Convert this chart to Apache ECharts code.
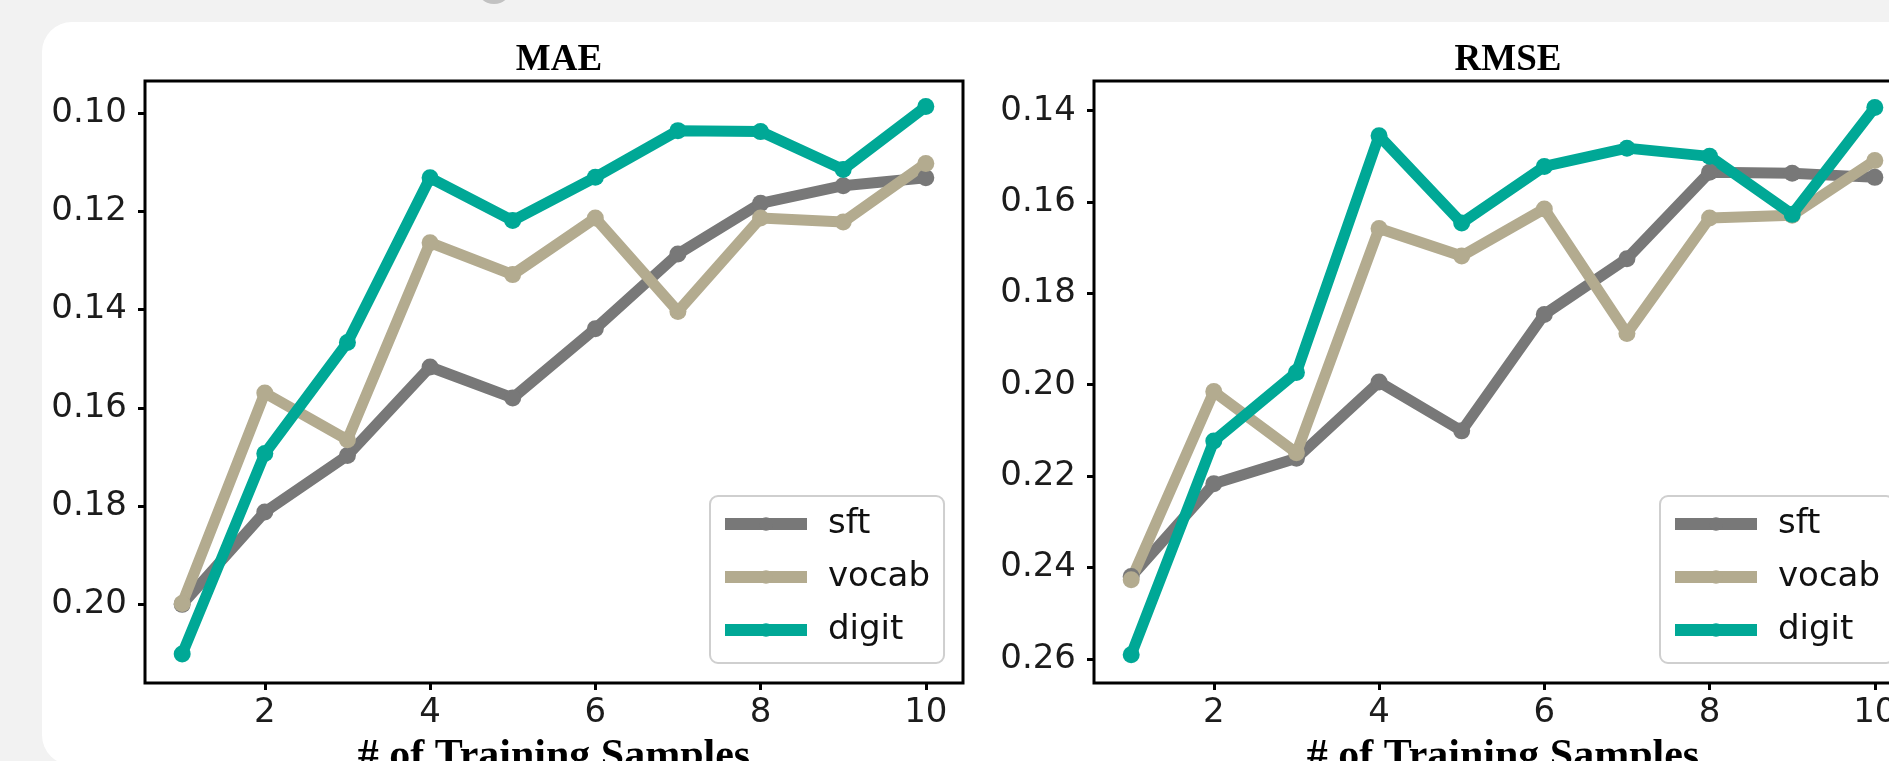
<!DOCTYPE html>
<html>
<head>
<meta charset="utf-8">
<script src="https://cdn.jsdelivr.net/npm/echarts/dist/echarts.min.js"></script>
<style>
  html, body { margin: 0; padding: 0; background: #f2f2f2; }
  body { width: 1889px; height: 761px; position: relative; overflow: hidden; }
  #dot { position: absolute; left: 476px; top: -32px; width: 36px; height: 36px; border-radius: 50%; background: #c2c2c2; }
  #card { position: absolute; left: 42px; top: 22px; width: 1900px; height: 743px; background: #ffffff; border-radius: 30px; }
  #chart { position: absolute; left: 0; top: 0; width: 1889px; height: 761px; }
</style>
</head>
<body>
<div id="dot"></div>
<div id="card"></div>
<div id="chart"></div>
<script>
// ---- data ----
const samples = [1, 2, 3, 4, 5, 6, 7, 8, 9, 10];
const seriesNames = ['sft', 'vocab', 'digit'];
const maeSft   = [0.2000, 0.1812, 0.1697, 0.1517, 0.1580, 0.1439, 0.1287, 0.1184, 0.1148, 0.1132];
const maeVocab = [0.1998, 0.1570, 0.1665, 0.1264, 0.1329, 0.1214, 0.1404, 0.1214, 0.1222, 0.1103];
const maeDigit = [0.2101, 0.1693, 0.1467, 0.1132, 0.1219, 0.1131, 0.1036, 0.1038, 0.1115, 0.0987];
const rmseSft   = [0.2420, 0.2217, 0.2161, 0.1994, 0.2101, 0.1846, 0.1724, 0.1535, 0.1537, 0.1546];
const rmseVocab = [0.2427, 0.2015, 0.2149, 0.1658, 0.1718, 0.1615, 0.1888, 0.1635, 0.1629, 0.1509];
const rmseDigit = [0.2591, 0.2123, 0.1973, 0.1455, 0.1646, 0.1522, 0.1482, 0.1500, 0.1627, 0.1393];
const xTicks = [2, 4, 6, 8, 10];
const maeTicks = [0.10, 0.12, 0.14, 0.16, 0.18, 0.20];
const rmseTicks = [0.14, 0.16, 0.18, 0.20, 0.22, 0.24, 0.26];
const panelTitles = ['MAE', 'RMSE'];
const xLabel = '# of Training Samples';

// ---- styles ----
const colors = { sft: '#787878', vocab: '#b3ab8f', digit: '#00a896' };
const sansFont = 'DejaVu Sans';
const serifFont = 'Liberation Serif';

const grids = [
  { left: 145, top: 81, width: 818, height: 602 },
  { left: 1094, top: 81, width: 818, height: 602 }
];

function pairs(vals) { return samples.map((x, i) => [x, vals[i]]); }

function mkX(idx) {
  return {
    type: 'value', gridIndex: idx, min: 0.55, max: 10.45,
    name: xLabel, nameLocation: 'middle', nameGap: 53,
    nameTextStyle: { fontFamily: serifFont, fontWeight: 'bold', fontSize: 42, color: '#000' },
    axisLine: { show: false },
    axisTick: { show: true, customValues: xTicks, length: 7, lineStyle: { color: '#000', width: 3 } },
    axisLabel: { customValues: xTicks, margin: 13, fontFamily: sansFont, fontSize: 34, color: '#1c1c1c' },
    splitLine: { show: false }
  };
}
function mkY(idx, lo, hi, ticks) {
  return {
    type: 'value', gridIndex: idx, min: lo, max: hi, inverse: true,
    axisLine: { show: false },
    axisTick: { show: true, customValues: ticks, length: 7, lineStyle: { color: '#000', width: 3 } },
    axisLabel: { customValues: ticks, margin: 18, fontFamily: sansFont, fontSize: 34, color: '#1c1c1c',
                 formatter: v => v.toFixed(2) },
    splitLine: { show: false }
  };
}
function mkSeries(name, vals, idx) {
  return {
    name: name, type: 'line', xAxisIndex: idx, yAxisIndex: idx,
    data: pairs(vals), symbol: 'circle', symbolSize: 17, showSymbol: true,
    lineStyle: { width: 11, color: colors[name] },
    itemStyle: { color: colors[name] },
    emphasis: { disabled: true }, animation: false
  };
}
function mkLegend(left) {
  return {
    data: seriesNames, orient: 'vertical', left: left, top: 496,
    itemWidth: 82, itemHeight: 17, itemGap: 13,
    padding: [8, 14, 13, 9],
    backgroundColor: '#ffffff', borderColor: '#cfcfcf', borderWidth: 2, borderRadius: 8,
    lineStyle: { width: 12 },
    textStyle: { fontFamily: sansFont, fontSize: 34, lineHeight: 40, color: '#111', padding: [0, 0, 0, 16] }
  };
}

const chart = echarts.init(document.getElementById('chart'), null, { renderer: 'canvas' });
chart.setOption({
  backgroundColor: 'transparent',
  animation: false,
  title: [
    { text: panelTitles[0], left: 554, top: 37, textAlign: 'center',
      textStyle: { fontFamily: serifFont, fontWeight: 'bold', fontSize: 37, color: '#000' } },
    { text: panelTitles[1], left: 1503, top: 37, textAlign: 'center',
      textStyle: { fontFamily: serifFont, fontWeight: 'bold', fontSize: 37, color: '#000' } }
  ],
  grid: grids.map(g => Object.assign({ show: true, backgroundColor: '#fff', borderColor: '#000', borderWidth: 3,
                                       outerBoundsMode: 'none', containLabel: false }, g)),
  xAxis: [mkX(0), mkX(1)],
  yAxis: [mkY(0, 0.0935, 0.2160, maeTicks), mkY(1, 0.1335, 0.2653, rmseTicks)],
  legend: [mkLegend(710), mkLegend(1660)],
  series: [
    mkSeries('sft', maeSft, 0), mkSeries('vocab', maeVocab, 0), mkSeries('digit', maeDigit, 0),
    mkSeries('sft', rmseSft, 1), mkSeries('vocab', rmseVocab, 1), mkSeries('digit', rmseDigit, 1)
  ]
});
</script>
</body>
</html>
